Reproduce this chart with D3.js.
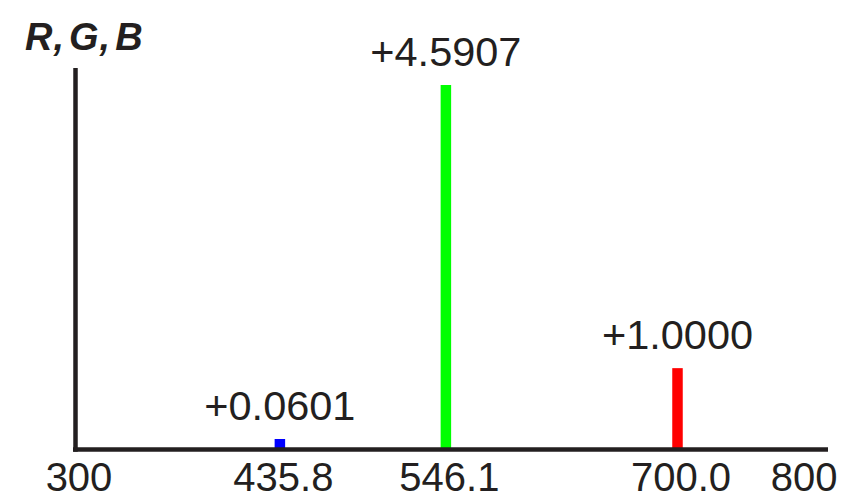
<!DOCTYPE html>
<html>
<head>
<meta charset="utf-8">
<script src="https://cdn.jsdelivr.net/npm/d3@7"></script>
<style>
  html, body { margin: 0; padding: 0; background: #fff; }
  svg { display: block; }
  text { font-family: "Liberation Sans", Arial, Helvetica, sans-serif; fill: #231f20; }
</style>
</head>
<body>
<svg id="chart" width="844" height="500"></svg>
<script>
// ---- data ----
const wavelengths = [435.8, 546.1, 700.0];
const primaryValues = [0.0601, 4.5907, 1.0000];
const primaryColors = ["#0000ff", "#00ff00", "#ff0000"];
const valueLabels = ["+0.0601", "+4.5907", "+1.0000"];
const tickValues = [300, 435.8, 546.1, 700.0, 800];
const tickLabels = ["300", "435.8", "546.1", "700.0", "800"];
const axisTitle = ["R", "G", "B"];

// ---- layout ----
const svg = d3.select("#chart");
const x0 = 75.5, x1 = 828, yBase = 449.5, yTop = 68;
const x = d3.scaleLinear().domain([300, 800]).range([x0, x1]);
const y = d3.scaleLinear().domain([0, 4.5907]).range([yBase - 2.5, 85]);
const ink = "#231f20";
const barW = 10.5;
const minBar = 8;

// bars
const bars = wavelengths.map((w, i) => ({ w, v: primaryValues[i], c: primaryColors[i], label: valueLabels[i] }));
const barTop = d => Math.min(y(d.v), y(0) - minBar);
svg.selectAll("rect.bar").data(bars).enter().append("rect")
  .attr("class", "bar")
  .attr("x", d => x(d.w) - barW / 2)
  .attr("width", barW)
  .attr("y", barTop)
  .attr("height", d => yBase - barTop(d))
  .attr("fill", d => d.c);

// value labels
svg.selectAll("text.val").data(bars).enter().append("text")
  .attr("class", "val")
  .attr("x", d => x(d.w))
  .attr("y", d => barTop(d) - 19)
  .attr("text-anchor", "middle")
  .attr("font-size", 41.5)
  .text(d => d.label);

// axes (custom-styled d3 axis)
const xAxis = d3.axisBottom(x).tickValues(tickValues).tickSize(0)
  .tickFormat((d, i) => tickLabels[i]);
const gx = svg.append("g").attr("transform", `translate(0,${yBase})`).call(xAxis);
gx.select(".domain").remove();
gx.selectAll("text")
  .attr("font-size", 40)
  .attr("font-family", "Liberation Sans, Arial, sans-serif")
  .attr("fill", ink)
  .attr("dy", 0)
  .attr("y", 41)
  .attr("text-anchor", (d, i) => i === tickValues.length - 1 ? "end" : "middle")
  .attr("dx", (d, i) => i === tickValues.length - 1 ? 9 : 3);

svg.append("line")
  .attr("x1", x0 - 2.5).attr("x2", x1)
  .attr("y1", yBase).attr("y2", yBase)
  .attr("stroke", ink).attr("stroke-width", 4.5);
svg.append("line")
  .attr("x1", x0).attr("x2", x0)
  .attr("y1", yTop).attr("y2", yBase + 2.25)
  .attr("stroke", ink).attr("stroke-width", 4.5);

// axis title
const title = svg.append("text")
  .attr("x", 25).attr("y", 50)
  .attr("font-size", 38)
  .attr("font-weight", "bold")
  .attr("font-style", "italic");
axisTitle.forEach((t, i) => {
  title.append("tspan").attr("dx", i === 0 ? 0 : 5).text(t);
  if (i < axisTitle.length - 1) title.append("tspan").attr("dx", 1).text(",");
});
</script>
</body>
</html>
